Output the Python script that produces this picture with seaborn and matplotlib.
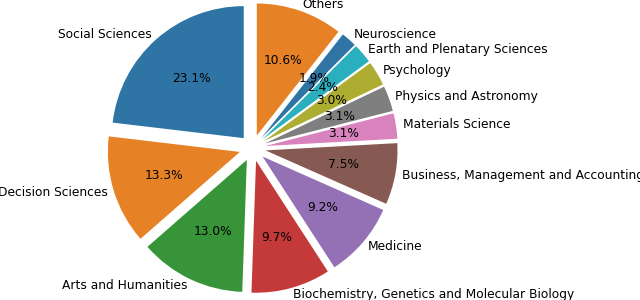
import matplotlib
matplotlib.use("Agg")
import matplotlib.pyplot as plt
import seaborn as sns

categories = [
    "Social Sciences", "Decision Sciences", "Arts and Humanities",
    "Biochemistry, Genetics and Molecular Biology", "Medicine",
    "Business, Management and Accounting", "Materials Science",
    "Physics and Astronomy", "Psychology", "Earth and Plenatary Sciences",
    "Neuroscience", "Others",
]
shares = [23.1, 13.3, 13.0, 9.7, 9.2, 7.5, 3.1, 3.1, 3.0, 2.4, 1.9, 10.6]

base = sns.color_palette("tab10", 10, desat=0.8)
colors = [base[i % 10] for i in range(len(categories))]

fig = plt.figure(figsize=(6.4, 3.0), dpi=100)
ax = fig.add_axes([0, 0, 1, 1])
R = 132.0
cx, cy = 252.5, 148.0
ax.pie(shares, labels=categories, colors=colors, autopct="%1.1f%%",
       startangle=90, explode=[0.1] * len(shares),
       labeldistance=1.05, pctdistance=0.6,
       textprops={"fontsize": 8.8, "color": "black"})
ax.set_xlim(-cx / R, (640 - cx) / R)
ax.set_ylim(-(300 - cy) / R, cy / R)
ax.set_aspect("auto")
ax.set_axis_off()
fig.savefig("out.png", dpi=100)
